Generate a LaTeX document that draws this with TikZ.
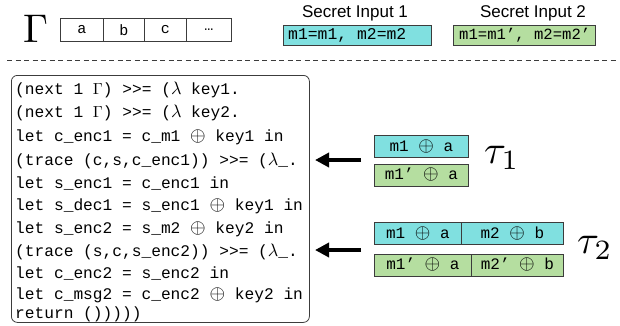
\documentclass[tikz,border=0pt]{standalone}
\usepackage{graphicx}
\usepackage{fontspec}
\setsansfont{Liberation Sans}
\setmonofont{Liberation Mono}
\usetikzlibrary{arrows.meta}
\definecolor{cyanfill}{RGB}{128,224,224}
\definecolor{greenfill}{RGB}{181,222,160}
\definecolor{edge}{RGB}{60,60,60}
\newcommand{\bigmath}[2]{{\fontsize{10}{10}\selectfont\scalebox{#1}{$#2$}}}
\newcommand{\xop}{\bigmath{2.0}{\oplus}}
\newcommand{\xlam}{\bigmath{1.8}{\lambda}}
\newcommand{\xGam}{\bigmath{1.6}{\Gamma}}
\tikzset{
  cell/.style={draw=edge, line width=0.8pt, minimum height=23pt, inner sep=0pt, font=\fontsize{15}{15}\selectfont\ttfamily, anchor=north west},
  secbox/.style={draw=edge, line width=0.8pt, minimum height=20pt, inner sep=0pt, anchor=north west},
  sectext/.style={anchor=west, inner sep=0pt, font=\fontsize{16.4}{16.4}\selectfont\ttfamily},
  taubox/.style={draw=edge, line width=0.8pt, minimum height=22pt, inner sep=0pt, font=\fontsize{16}{16}\selectfont\ttfamily, anchor=north west},
  seclabel/.style={font=\fontsize{17}{17}\selectfont\sffamily, inner sep=0pt},
  codeline/.style={anchor=base west, inner sep=0pt, font=\fontsize{16.2}{16.2}\selectfont\ttfamily},
  codebox/.style={draw=edge, line width=0.8pt, rounded corners=6pt},
  bigarrow/.style={line width=3.5pt, -{Triangle[length=14pt,width=14pt]}},
  taulabel/.style={inner sep=0pt, anchor=base west},
}
\begin{document}
\begin{tikzpicture}[x=1pt,y=-1pt]
\useasboundingbox (0,0) rectangle (620,325);
% Gamma and tape
\node[inner sep=0pt, anchor=base west] (gam) at (23,42) {\bigmath{4}{\Gamma}};
\node[cell, minimum width=43pt] (ca) at (60,18) {a};
\node[cell, minimum width=41pt] (cb) at (103,18) {b};
\node[cell, minimum width=42pt] (cc) at (144,18) {c};
\node[cell, minimum width=45pt] (cd) at (186,18) {…};
% secret inputs
\node[seclabel] (l1) at (355,13) {Secret Input 1};
\node[seclabel] (l2) at (533,13) {Secret Input 2};
\node[secbox, fill=cyanfill, minimum width=148pt] (s1) at (283,25) {};
\node[sectext] (s1t) at (288,35.5) {m1=m1, m2=m2};
\node[secbox, fill=greenfill, minimum width=142pt] (s2) at (453,25) {};
\node[sectext, font=\fontsize{15.6}{15.6}\selectfont\ttfamily] (s2t) at (459,35.5) {m1=m1’, m2=m2’};
% dashed separator
\coordinate (dl) at (7,60);
\coordinate (dr) at (618,60);
\draw[edge, line width=0.9pt, dash pattern=on 5pt off 3.5pt] (dl) -- (dr);
% code box
\node[codebox, minimum width=298pt, minimum height=247pt, anchor=north west] (code) at (11,75) {};
\node[codeline] (c1) at (15,94) {(next 1 \xGam) >>= (\xlam{} key1.};
\node[codeline] (c2) at (15,117) {(next 1 \xGam) >>= (\xlam{} key2.};
\node[codeline] (c3) at (15,141) {let c\_enc1 = c\_m1 \xop{} key1 in};
\node[codeline] (c4) at (15,165) {(trace (c,s,c\_enc1)) >>= (\xlam\_.};
\node[codeline] (c5) at (15,188) {let s\_enc1 = c\_enc1 in};
\node[codeline] (c6) at (15,210) {let s\_dec1 = s\_enc1 \xop{} key1 in};
\node[codeline] (c7) at (15,233) {let s\_enc2 = s\_m2 \xop{} key2 in};
\node[codeline] (c8) at (15,256) {(trace (s,c,s\_enc2)) >>= (\xlam\_.};
\node[codeline] (c9) at (15,278) {let c\_enc2 = s\_enc2 in};
\node[codeline] (c10) at (15,299.5) {let c\_msg2 = c\_enc2 \xop{} key2 in};
\node[codeline] (c11) at (15,318.5) {return ()))))};
% tau 1
\node[taubox, fill=cyanfill, minimum width=94pt] (t1a) at (374,135) {m1 \xop{} a};
\node[taubox, fill=greenfill, minimum width=94pt] (t1b) at (374,163.5) {m1’ \xop{} a};
\node[taulabel] (tau1) at (484,163) {\bigmath{4}{\tau_1}};
\coordinate (a1s) at (361,160);
\coordinate (a1e) at (315,160);
\draw[bigarrow] (a1s) -- (a1e);
% tau 2
\node[taubox, fill=cyanfill, minimum width=87pt] (t2a) at (374,222) {m1 \xop{} a};
\node[taubox, fill=cyanfill, minimum width=102pt] (t2b) at (461,222) {m2 \xop{} b};
\node[taubox, fill=greenfill, minimum width=97pt] (t2c) at (374,253.5) {m1’ \xop{} a};
\node[taubox, fill=greenfill, minimum width=92pt] (t2d) at (471,253.5) {m2’ \xop{} b};
\node[taulabel] (tau2) at (577,253) {\bigmath{4}{\tau_2}};
\coordinate (a2s) at (361,250);
\coordinate (a2e) at (315,250);
\draw[bigarrow] (a2s) -- (a2e);
\end{tikzpicture}
\end{document}
